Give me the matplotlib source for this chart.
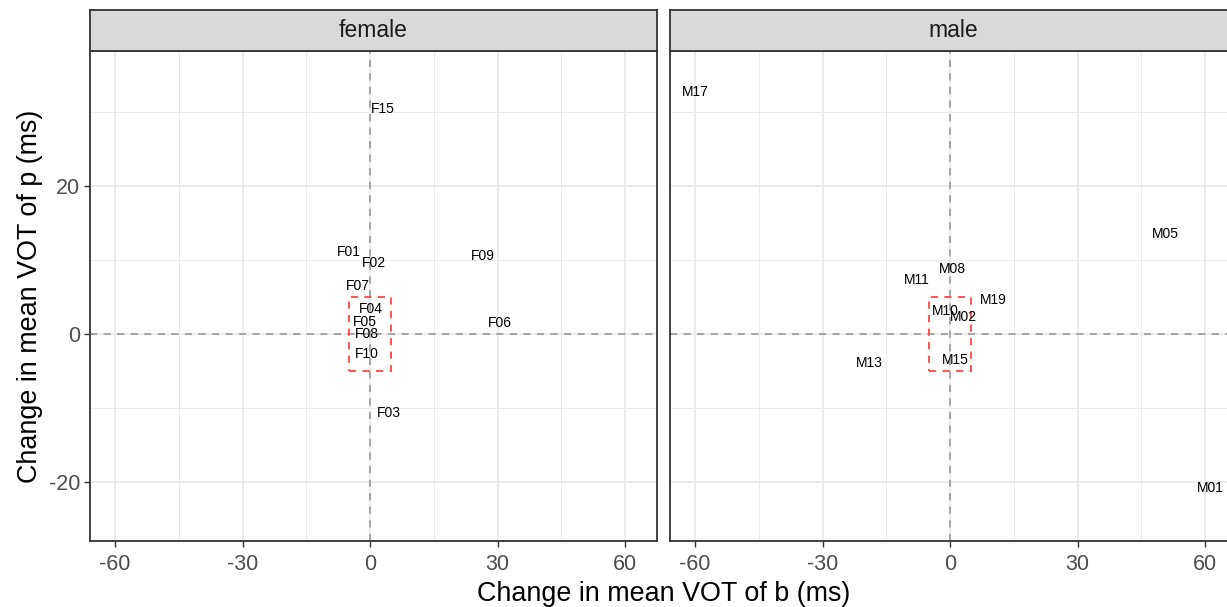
import matplotlib.pyplot as plt
from matplotlib.patches import Rectangle
from matplotlib.ticker import FixedLocator

plt.rcParams['font.family'] = ['Liberation Sans', 'DejaVu Sans']
plt.rcParams['axes.unicode_minus'] = False

# speaker-level change in mean VOT (b on x, p on y), per sex
female_ids = ['F15', 'F01', 'F02', 'F09', 'F07', 'F04', 'F05', 'F08', 'F10', 'F06', 'F03']
female_db = [3.1, -4.9, 0.9, 26.6, -2.8, 0.2, -1.2, -0.7, -0.7, 30.6, 4.5]
female_dp = [30.3, 11.1, 9.6, 10.5, 6.4, 3.4, 1.6, 0.0, -2.8, 1.5, -10.7]

male_ids = ['M17', 'M05', 'M08', 'M11', 'M19', 'M10', 'M02', 'M13', 'M15', 'M01']
male_db = [-60.0, 50.6, 0.5, -7.8, 10.1, -1.2, 3.1, -19.1, 1.2, 61.2]
male_dp = [32.7, 13.5, 8.8, 7.2, 4.6, 3.1, 2.2, -3.9, -3.5, -20.8]

panels = ['female', 'male']
box_half = 5

W, H = 1227, 607
fig = plt.figure(figsize=(W / 100, H / 100), dpi=100)

def px_box(l, r, t, b):
    return [l / W, (H - b) / H, (r - l) / W, (b - t) / H]

panel_left = [90, 670]
panel_w = 567
top, bottom, strip_top = 51, 541, 10

data = [(female_ids, female_db, female_dp), (male_ids, male_db, male_dp)]

for i, name in enumerate(panels):
    l = panel_left[i]
    ax = fig.add_axes(px_box(l, l + panel_w, top, bottom))
    ids, xs, ys = data[i]

    ax.set_xlim(-65.9, 67.5)
    ax.set_ylim(-28.0, 38.2)
    ax.xaxis.set_major_locator(FixedLocator([-60, -30, 0, 30, 60]))
    ax.xaxis.set_minor_locator(FixedLocator([-45, -15, 15, 45]))
    ax.yaxis.set_major_locator(FixedLocator([-20, 0, 20]))
    ax.yaxis.set_minor_locator(FixedLocator([-10, 10, 30]))
    ax.grid(which='major', color='#EBEBEB', lw=1.4)
    ax.grid(which='minor', color='#EBEBEB', lw=0.7)
    ax.set_axisbelow(True)
    ax.tick_params(which='minor', length=0)
    ax.tick_params(which='major', length=4, width=1.0, color='#333333',
                   labelcolor='#4D4D4D', labelsize=15.5)
    ax.tick_params(axis='x', pad=5)
    ax.tick_params(axis='y', pad=3)
    if i == 1:
        ax.tick_params(axis='y', labelleft=False, length=0)
    for s in ax.spines.values():
        s.set_color('#333333')
        s.set_linewidth(1.3)

    ax.axvline(0, color='#A0A0A0', lw=1.3, linestyle=(0, (4, 3.5)), zorder=1)
    ax.axhline(0, color='#A0A0A0', lw=1.3, linestyle=(0, (4, 3.5)), zorder=1)
    ax.add_patch(Rectangle((-box_half, -box_half), 2 * box_half, 2 * box_half,
                           fill=False, edgecolor='#FF4545', lw=1.3,
                           linestyle=(0, (4, 3.5)), zorder=2))

    for lab, x, y in zip(ids, xs, ys):
        ax.text(x, y, lab, ha='center', va='center', fontsize=10, color='black', zorder=3)

    sax = fig.add_axes(px_box(l, l + panel_w, strip_top, top))
    sax.set_facecolor('#D9D9D9')
    sax.set_xticks([])
    sax.set_yticks([])
    for s in sax.spines.values():
        s.set_color('#333333')
        s.set_linewidth(1.3)
    sax.text(0.5, 0.5, name, ha='center', va='center', fontsize=16.5, color='#1A1A1A',
             transform=sax.transAxes)

fig.text(664 / W, 1 - 594 / H, 'Change in mean VOT of b (ms)', ha='center', va='center', fontsize=19.4)
fig.text(30 / W, 1 - 296 / H, 'Change in mean VOT of p (ms)', ha='center', va='center',
         fontsize=19.4, rotation=90)

plt.savefig('out.png', dpi=100)
